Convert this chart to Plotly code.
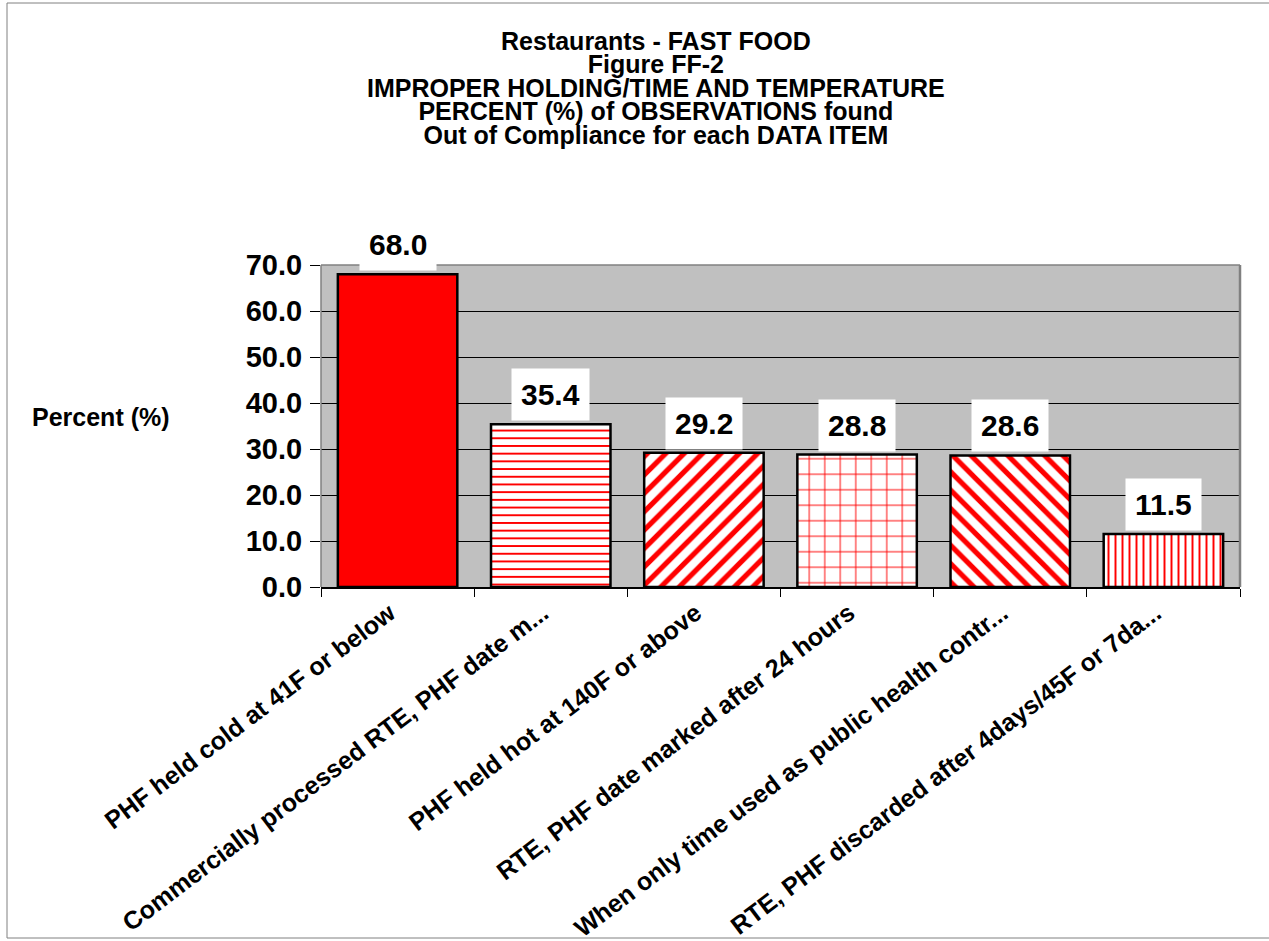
import plotly.graph_objects as go

# Data items and percent of observations out of compliance
categories = [
    "PHF held cold at 41F or below",
    "Commercially processed RTE, PHF date m...",
    "PHF held hot at 140F or above",
    "RTE, PHF date marked after 24 hours",
    "When only time used as public health contr...",
    "RTE, PHF discarded after 4days/45F or 7da...",
]
values = [68.0, 35.4, 29.2, 28.8, 28.6, 11.5]
y_ticks = [0, 10, 20, 30, 40, 50, 60, 70]

title_lines = [
    "Restaurants - FAST FOOD",
    "Figure FF-2",
    "IMPROPER HOLDING/TIME AND TEMPERATURE",
    "PERCENT (%) of OBSERVATIONS found",
    "Out of Compliance for each DATA ITEM",
]

# Fill styles for each bar
RED = "#ff0000"
fill_colors = [RED, "white", "white", "white", "white", "white"]
pattern_shapes = ["", "-", "/", "+", "\\", "|"]
pattern_sizes = [8, 7.7, 13, 15.5, 13, 7]
pattern_solidity = [0.3, 0.25, 0.4, 0.12, 0.4, 0.28]

FONT = "Liberation Sans, Arial, sans-serif"
W, H = 1269, 941
L, R, T, B = 321, 29, 265, 354
PW, PH = W - L - R, H - T - B


def px_x(px):
    return (px - L) / PW


def px_y(py):
    return (H - B - py) / PH


fig = go.Figure()
# one trace per bar so each gets its own hatch
for i, (c, v) in enumerate(zip(categories, values)):
    pattern = dict(shape=pattern_shapes[i])
    if pattern_shapes[i]:
        pattern.update(
            size=pattern_sizes[i],
            solidity=pattern_solidity[i],
            fgcolor=RED,
            fgopacity=1,
            fillmode="overlay",
        )
    fig.add_trace(
        go.Bar(
            x=[c],
            y=[v],
            marker=dict(
                color=fill_colors[i],
                line=dict(color="black", width=2.5),
                pattern=pattern,
            ),
            hoverinfo="skip",
        )
    )

annotations = []
# value labels on white boxes above bars
for c, v in zip(categories, values):
    annotations.append(
        dict(
            x=c, y=v, xref="x", yref="y",
            text=f"{v:.1f}",
            showarrow=False,
            yanchor="bottom",
            yshift=3,
            bgcolor="white",
            borderpad=9,
            font=dict(family=FONT, size=30, color="black", weight="bold"),
        )
    )

# title block: tight line spacing from the small base size, larger glyphs per line
title_text = "<br>".join(
    f"<span style='font-size:25px'>{line}</span>" for line in title_lines
)
annotations.append(
    dict(
        x=px_x(656), y=px_y(88), xref="paper", yref="paper",
        text=title_text, showarrow=False,
        xanchor="center", yanchor="middle", align="center",
        font=dict(family=FONT, size=18, color="black", weight="bold"),
    )
)

# y-axis caption
annotations.append(
    dict(
        x=px_x(30), y=px_y(417), xref="paper", yref="paper",
        text="Percent (%)", showarrow=False,
        xanchor="left", yanchor="middle",
        font=dict(family=FONT, size=25, color="black", weight="bold"),
    )
)

shapes = [
    # outer chart frame
    dict(type="rect", xref="paper", yref="paper",
         x0=px_x(7), x1=px_x(1280), y0=px_y(938), y1=px_y(3),
         line=dict(color="#808080", width=1), layer="below"),
    # plot area border (left, top, right)
    dict(type="line", xref="paper", yref="paper", x0=0, x1=0, y0=0, y1=1,
         line=dict(color="#808080", width=1.5), layer="above"),
    dict(type="line", xref="paper", yref="paper", x0=0, x1=1, y0=1, y1=1,
         line=dict(color="#808080", width=1.5), layer="above"),
    dict(type="line", xref="paper", yref="paper", x0=1, x1=1, y0=0, y1=1,
         line=dict(color="#808080", width=2.5), layer="above"),
]

fig.update_layout(
    width=W, height=H,
    margin=dict(l=L, r=R, t=T, b=B, autoexpand=False),
    paper_bgcolor="white",
    plot_bgcolor="#c0c0c0",
    bargap=0.22,
    barmode="overlay",
    showlegend=False,
    annotations=annotations,
    shapes=shapes,
    font=dict(family=FONT, color="black"),
)

fig.update_yaxes(
    range=[0, 70],
    tickvals=y_ticks,
    ticktext=[f"{t:.1f}" for t in y_ticks],
    tickfont=dict(family=FONT, size=29, color="black", weight="bold"),
    ticks="outside", ticklen=10, tickcolor="black", tickwidth=1,
    ticklabelstandoff=2,
    showgrid=True, gridcolor="black", gridwidth=1,
    zeroline=False, showline=False,
)
fig.update_xaxes(
    categoryorder="array",
    categoryarray=categories,
    tickfont=dict(family=FONT, size=25, color="black", weight="bold"),
    tickangle=-37,
    ticklabelshift=-8,
    ticks="outside", ticklen=8, tickcolor="black", tickwidth=1,
    tickson="boundaries",
    showline=True, linecolor="black", linewidth=1.5,
    showgrid=False,
)

fig.write_html("out.html")
